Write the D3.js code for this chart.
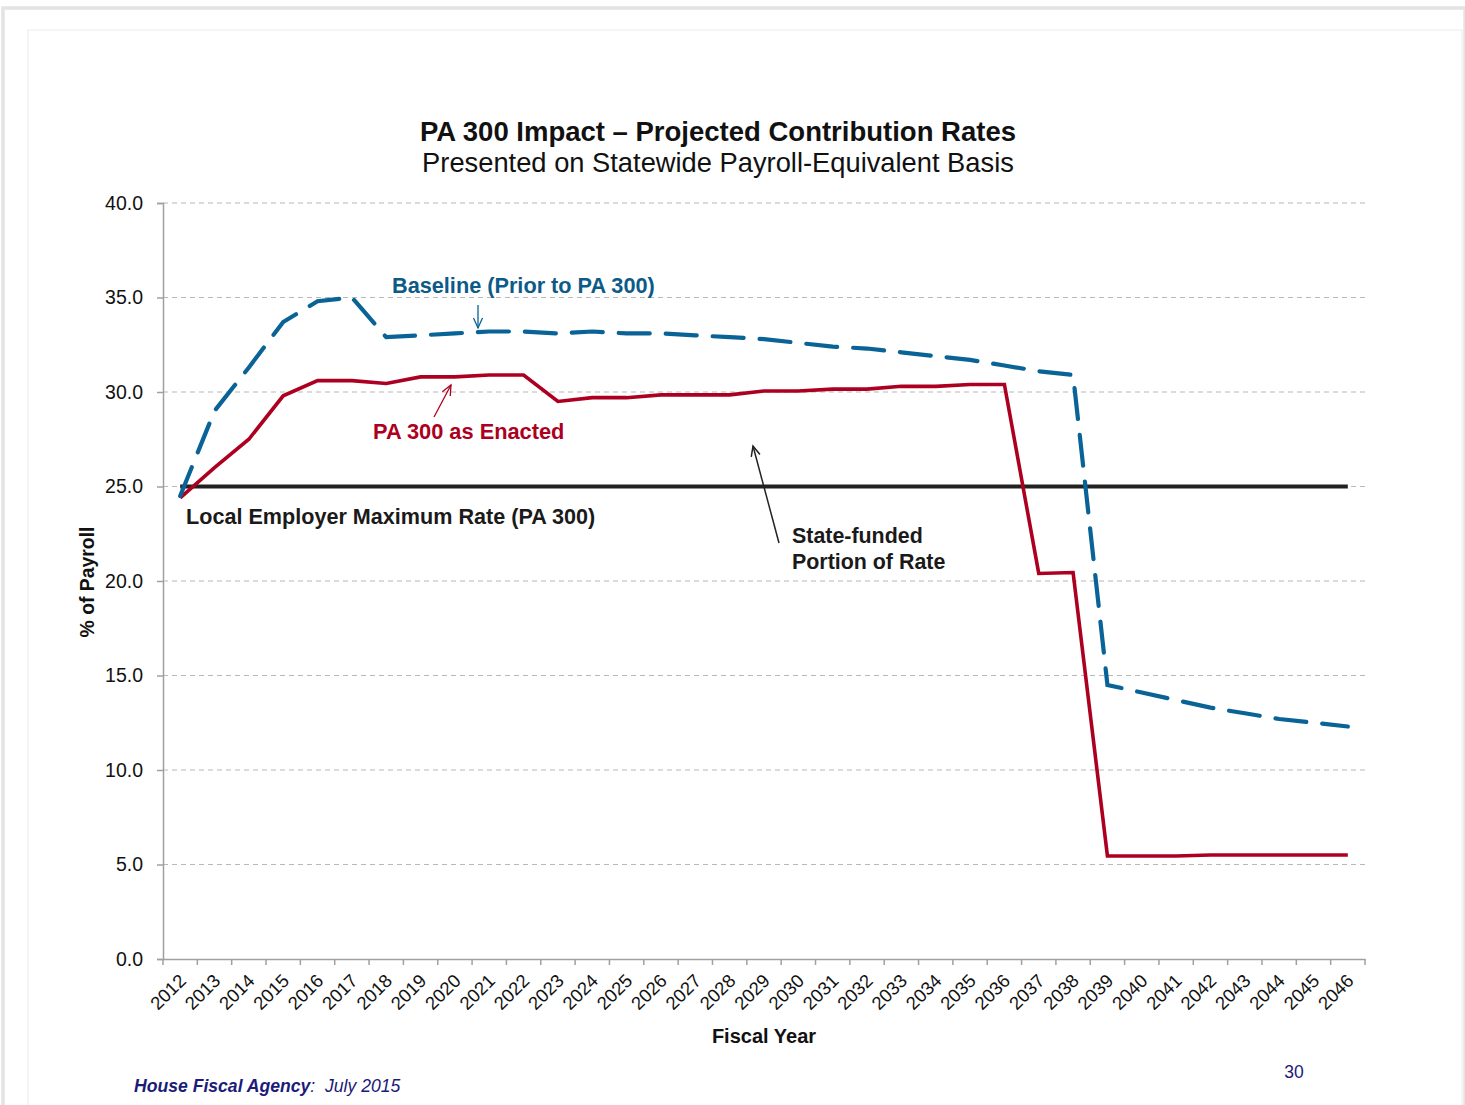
<!DOCTYPE html>
<html><head><meta charset="utf-8">
<script src="https://cdn.jsdelivr.net/npm/d3@7"></script>
<style>body{margin:0;background:#fff;}svg{display:block;font-family:"Liberation Sans",Arial,sans-serif;}</style>
</head><body>
<script>
const years = d3.range(2012, 2047).map(String);
const enacted = [24.4,26.0,27.5,29.8,30.6,30.6,30.45,30.8,30.8,30.9,30.9,29.5,29.7,29.7,29.85,29.85,29.85,30.05,30.05,30.15,30.15,30.3,30.3,30.4,30.4,20.4,20.45,5.45,5.45,5.45,5.5,5.5,5.5,5.5,5.5];
const baseline = [24.5,29.0,31.3,33.7,34.8,35.0,32.9,33.0,33.1,33.2,33.2,33.1,33.2,33.1,33.1,33.0,32.9,32.8,32.6,32.4,32.3,32.1,31.9,31.7,31.4,31.1,30.9,14.5,14.1,13.7,13.3,13.0,12.7,12.5,12.3];
const maxRate = 25.0;
const yTicks = [0,5,10,15,20,25,30,35,40];

const W = 1465, H = 1105;
const svg = d3.select("body").append("svg").attr("width", W).attr("height", H);

// page frame
svg.append("rect").attr("x",0).attr("y",0).attr("width",W).attr("height",H).attr("fill","#fff");
svg.append("rect").attr("x",3).attr("y",8).attr("width",W-3).attr("height",H).attr("fill","none").attr("stroke","#e3e3e3").attr("stroke-width",3.5);
svg.append("rect").attr("x",28).attr("y",30).attr("width",1434).attr("height",H).attr("fill","none").attr("stroke","#f2f2f2").attr("stroke-width",1.5);

const x0 = 163, x1 = 1365, yTop = 203, yBot = 959;
const x = d3.scaleBand().domain(years).range([x0, x1]);
const xc = d => x(d) + x.bandwidth()/2;
const y = d3.scaleLinear().domain([0, 40]).range([yBot, yTop]);

// gridlines
svg.append("g").selectAll("line").data(yTicks.filter(t => t > 0)).join("line")
  .attr("x1", x0).attr("x2", x1).attr("y1", d => y(d)).attr("y2", d => y(d))
  .attr("stroke", "#b8b8b8").attr("stroke-width", 1.2).attr("stroke-dasharray", "5,4");

// y axis
const yAxis = svg.append("g").attr("transform", `translate(${x0},0)`)
  .call(d3.axisLeft(y).tickValues(yTicks).tickFormat(d3.format(".1f")).tickSize(6).tickPadding(14));
yAxis.select(".domain").attr("stroke", "#a0a0a0").attr("stroke-width", 1.5);
yAxis.selectAll(".tick line").attr("stroke", "#a0a0a0").attr("stroke-width", 1.5);
yAxis.selectAll("text").attr("font-size", 19.5).attr("fill", "#111").attr("font-family", "Liberation Sans, Arial, sans-serif");

// x axis
const xAxis = svg.append("g").attr("transform", `translate(0,${yBot})`)
  .call(d3.axisBottom(x).tickSize(0).tickPadding(0));
xAxis.select(".domain").attr("stroke", "#a0a0a0").attr("stroke-width", 1.5);
xAxis.selectAll("text").attr("font-size", 18.5).attr("fill", "#111").attr("font-family", "Liberation Sans, Arial, sans-serif")
  .attr("text-anchor", "end").attr("dy", null).attr("y", null)
  .attr("transform", "translate(7,23) rotate(-45)");
// boundary ticks
const bounds = years.map(d => x(d)).concat([x1]);
svg.append("g").selectAll("line").data(bounds).join("line")
  .attr("x1", d => d).attr("x2", d => d).attr("y1", yBot).attr("y2", yBot + 6)
  .attr("stroke", "#a0a0a0").attr("stroke-width", 1.5);

// max rate line
svg.append("line").attr("x1", xc(years[0])).attr("x2", xc(years[years.length-1]))
  .attr("y1", y(maxRate)).attr("y2", y(maxRate)).attr("stroke", "#222").attr("stroke-width", 4);

const line = d3.line().x((d, i) => xc(years[i])).y(d => y(d));
svg.append("path").datum(enacted).attr("d", line).attr("fill", "none")
  .attr("stroke", "#ad0021").attr("stroke-width", 3.6).attr("stroke-linejoin", "miter");
svg.append("path").datum(baseline).attr("d", line).attr("fill", "none")
  .attr("stroke", "#0a6396").attr("stroke-width", 4.2).attr("stroke-dasharray", "31,16").attr("stroke-linecap", "round");

// titles
svg.append("text").attr("x", 718).attr("y", 141).attr("text-anchor", "middle")
  .attr("font-size", 27.5).attr("font-weight", "bold").attr("fill", "#111")
  .text("PA 300 Impact \u2013 Projected Contribution Rates");
svg.append("text").attr("x", 718).attr("y", 172).attr("text-anchor", "middle")
  .attr("font-size", 27.3).attr("fill", "#111")
  .text("Presented on Statewide Payroll-Equivalent Basis");

// axis titles
svg.append("text").attr("x", 764).attr("y", 1043).attr("text-anchor", "middle")
  .attr("font-size", 20).attr("font-weight", "bold").attr("fill", "#111").text("Fiscal Year");
svg.append("text").attr("transform", "translate(94,582) rotate(-90)").attr("text-anchor", "middle")
  .attr("font-size", 19.4).attr("font-weight", "bold").attr("fill", "#111").text("% of Payroll");

// annotations
svg.append("text").attr("x", 392).attr("y", 293).attr("font-size", 21.7).attr("font-weight", "bold")
  .attr("fill", "#0b5a88").text("Baseline (Prior to PA 300)");
svg.append("text").attr("x", 373).attr("y", 439).attr("font-size", 21.8).attr("font-weight", "bold")
  .attr("fill", "#ad0021").text("PA 300 as Enacted");
svg.append("text").attr("x", 186).attr("y", 524).attr("font-size", 21.6).attr("font-weight", "bold")
  .attr("fill", "#1a1a1a").text("Local Employer Maximum Rate (PA 300)");
svg.append("text").attr("x", 792).attr("y", 543).attr("font-size", 21.4).attr("font-weight", "bold")
  .attr("fill", "#1a1a1a").text("State-funded");
svg.append("text").attr("x", 792).attr("y", 569).attr("font-size", 21.4).attr("font-weight", "bold")
  .attr("fill", "#1a1a1a").text("Portion of Rate");

function arrow(xa, ya, xb, yb, color, w) {
  const g = svg.append("g").attr("stroke", color).attr("stroke-width", w).attr("fill", "none");
  g.append("line").attr("x1", xa).attr("y1", ya).attr("x2", xb).attr("y2", yb);
  const ang = Math.atan2(yb - ya, xb - xa), L = 11, a = 0.42;
  g.append("path").attr("d",
    `M${xb - L*Math.cos(ang - a)},${yb - L*Math.sin(ang - a)} L${xb},${yb} L${xb - L*Math.cos(ang + a)},${yb - L*Math.sin(ang + a)}`);
}
arrow(478, 305, 478, 328, "#0a6396", 1.3);
arrow(434, 417, 451, 385, "#ad0021", 1.3);
arrow(779, 543, 753, 446, "#222", 1.5);

// footer
const ft = svg.append("text").attr("x", 134).attr("y", 1092).attr("font-size", 17.6).attr("font-style", "italic").attr("fill", "#1b1b78");
ft.append("tspan").attr("font-weight", "bold").text("House Fiscal Agency");
ft.append("tspan").text(":\u00a0 July 2015");
svg.append("text").attr("x", 1294).attr("y", 1078).attr("text-anchor", "middle").attr("font-size", 17.5).attr("fill", "#1b1b78").text("30");
</script>
</body></html>
